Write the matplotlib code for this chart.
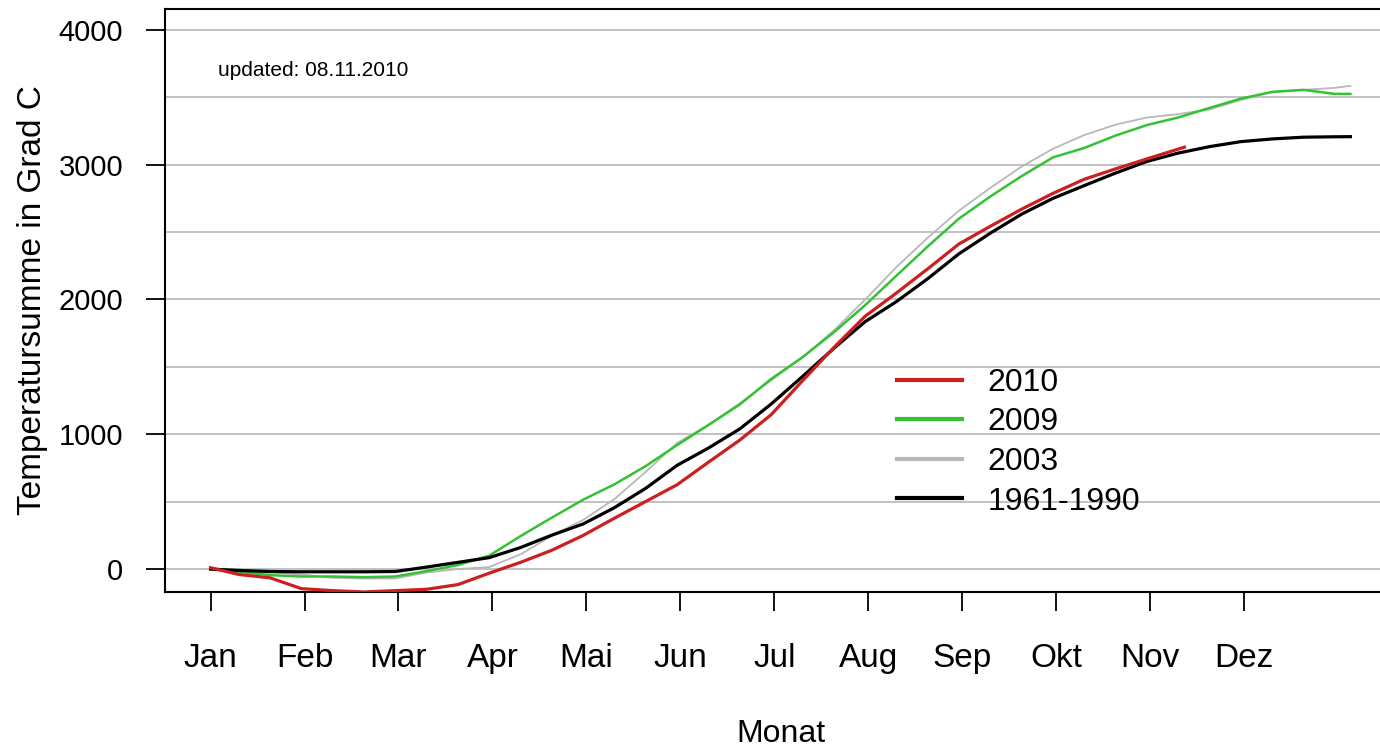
import matplotlib
matplotlib.use("Agg")
import matplotlib.pyplot as plt

# ---- data ----
days = [1, 10, 20, 30, 40, 50, 60, 70, 80, 90, 100, 110, 120, 130, 140, 150,
        160, 170, 180, 190, 200, 210, 220, 230, 240, 250, 260, 270, 280, 290,
        300, 310, 320, 330, 340, 350, 360, 365]

ref_1961_1990 = [0, -10, -18, -20, -20, -20, -18, 15, 50, 85, 160, 252, 335, 456,
                 600, 770, 898, 1040, 1224, 1428, 1637, 1835, 1984, 2154, 2339,
                 2492, 2633, 2750, 2845, 2938, 3024, 3086, 3134, 3171, 3191,
                 3204, 3207, 3208]

days_2010 = days[:31] + [312]
y2010 = [10, -40, -65, -145, -160, -170, -160, -150, -115, -30, 50, 140, 250,
         378, 502, 626, 793, 957, 1145, 1396, 1643, 1875, 2048, 2227, 2412,
         2543, 2670, 2787, 2892, 2969, 3043, 3130]

y2009 = [0, -20, -45, -55, -55, -60, -55, -15, 30, 100, 245, 382, 515, 629,
         765, 920, 1069, 1221, 1410, 1571, 1756, 1957, 2176, 2393, 2600, 2764,
         2915, 3054, 3124, 3216, 3294, 3350, 3421, 3490, 3540, 3555, 3525, 3525]

y2003 = [0, -15, -25, -40, -65, -70, -70, -25, 0, 15, 110, 247, 365, 520, 722,
         936, 1070, 1230, 1400, 1570, 1770, 1998, 2240, 2458, 2659, 2828, 2986,
         3118, 3220, 3297, 3350, 3375, 3410, 3480, 3540, 3555, 3570, 3585]

month_ticks = [1, 31, 61, 91, 121, 151, 181, 211, 241, 271, 301, 331]
month_labels = ["Jan", "Feb", "Mar", "Apr", "Mai", "Jun", "Jul", "Aug", "Sep",
                "Okt", "Nov", "Dez"]
y_ticks = [0, 1000, 2000, 3000, 4000]
grid_levels = [0, 500, 1000, 1500, 2000, 2500, 3000, 3500, 4000]

plt.rcParams['font.family'] = ['Liberation Sans', 'DejaVu Sans']

fig = plt.figure(figsize=(13.8, 7.49), dpi=100)
ax = fig.add_axes([165 / 1380, 1 - 592 / 749, (1396 - 165) / 1380, (592 - 9) / 749])

xmin, xmax = -13.56, 379.56
ax.set_xlim(xmin, xmax)
ax.set_ylim(-170, 4155)

for g in grid_levels:
    ax.axhline(g, color="#bdbdbd", lw=1.3, zorder=1)

ax.plot(days, y2003, color="#b8b8b8", lw=1.3, zorder=2, label="2003")
ax.plot(days, y2009, color="#33c233", lw=1.8, zorder=3, label="2009")
ax.plot(days, ref_1961_1990, color="black", lw=2.3, zorder=4, label="1961-1990")
ax.plot(days_2010, y2010, color="#cc2020", lw=2.3, zorder=5, label="2010")

handles, labels = ax.get_legend_handles_labels()
order = [labels.index(l) for l in ["2010", "2009", "2003", "1961-1990"]]
leg = ax.legend([handles[i] for i in order], [labels[i] for i in order],
                loc="upper left",
                bbox_to_anchor=((884 - 165) / (1396 - 165), (592 - 355) / (592 - 9)),
                frameon=False, fontsize=23, handlelength=2.05, handletextpad=0.78,
                labelspacing=0.3, borderaxespad=0)
for line in leg.get_lines():
    line.set_linewidth(3)

ax.set_xticks(month_ticks)
ax.set_xticklabels(month_labels)
ax.set_yticks(y_ticks)
ax.tick_params(axis="both", direction="out", length=14, width=1.3, color="black")
ax.tick_params(axis="x", pad=23, labelsize=24)
ax.tick_params(axis="y", pad=16, labelsize=21)

for s in ["left", "bottom", "top"]:
    ax.spines[s].set_linewidth(1.5)
ax.spines["right"].set_visible(False)

ax.set_xlabel("Monat", fontsize=23, labelpad=32)
ax.set_ylabel("Temperatursumme in Grad C", fontsize=24, labelpad=8)

ax.text((218 - 165) / (1396 - 165), (592 - 70) / (592 - 9), "updated: 08.11.2010",
        transform=ax.transAxes, fontsize=15, va="center", ha="left")

fig.savefig("out.png", dpi=100)
